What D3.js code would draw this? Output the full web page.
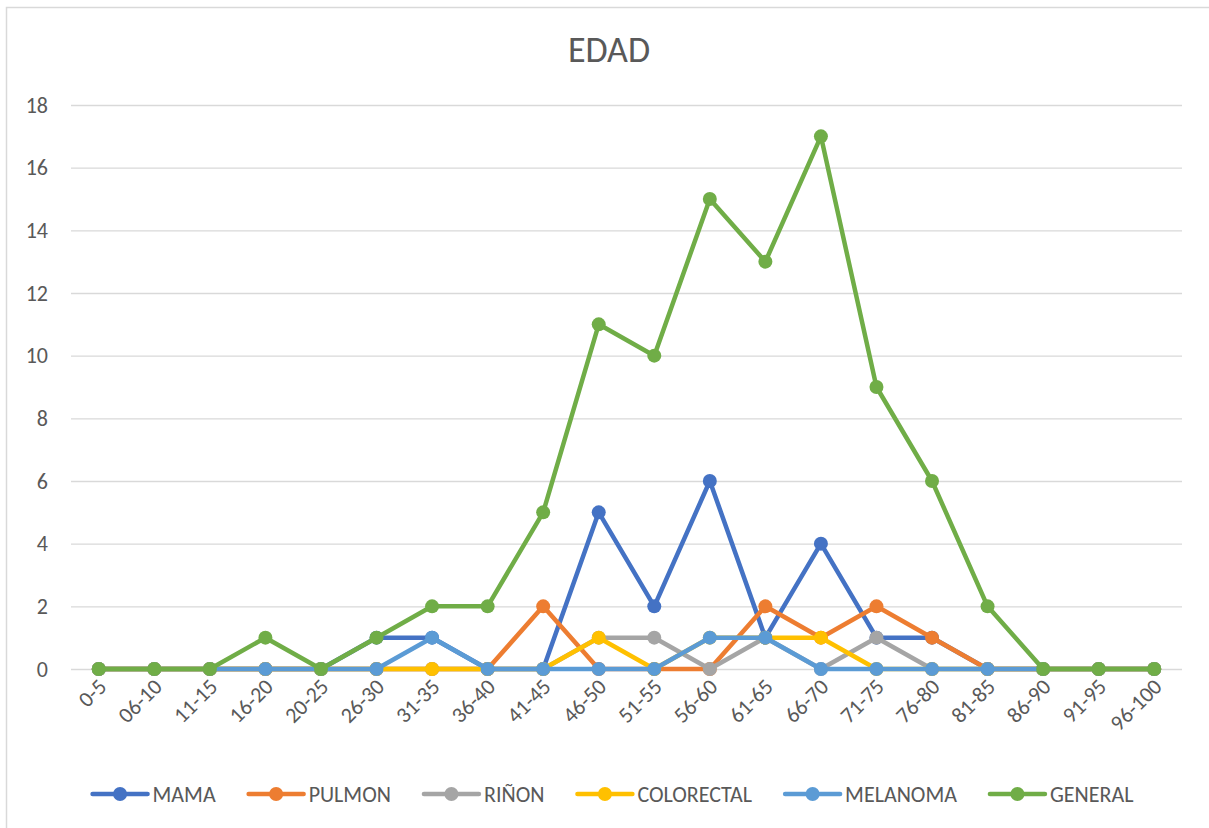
<!DOCTYPE html>
<html><head><meta charset="utf-8">
<script src="https://cdn.jsdelivr.net/npm/d3@7"></script>
<style>body{margin:0;background:#fff}svg{display:block}text{font-family:Carlito,Calibri,"Liberation Sans Narrow","Open Sans",sans-serif;fill:#595959}</style>
</head><body><svg id="c" width="1209" height="828"></svg>
<script>
const categories = ["0-5","06-10","11-15","16-20","20-25","26-30","31-35","36-40","41-45","46-50","51-55","56-60","61-65","66-70","71-75","76-80","81-85","86-90","91-95","96-100"];
const seriesNames = ["MAMA","PULMON","RIÑON","COLORECTAL","MELANOMA","GENERAL"];
const mama       = [0,0,0,0,0,1,1,0,0,5,2,6,1,4,1,1,0,0,0,0];
const pulmon     = [0,0,0,0,0,0,0,0,2,0,0,0,2,1,2,1,0,0,0,0];
const rinon      = [0,0,0,0,0,0,0,0,0,1,1,0,1,0,1,0,0,0,0,0];
const colorectal = [0,0,0,0,0,0,0,0,0,1,0,1,1,1,0,0,0,0,0,0];
const melanoma   = [0,0,0,0,0,0,1,0,0,0,0,1,1,0,0,0,0,0,0,0];
const general    = [0,0,0,1,0,1,2,2,5,11,10,15,13,17,9,6,2,0,0,0];
const yTicks = [0,2,4,6,8,10,12,14,16,18];
const colors = ["#4472C4","#ED7D31","#A5A5A5","#FFC000","#5B9BD5","#70AD47"];
const title = "EDAD";

const values = [mama,pulmon,rinon,colorectal,melanoma,general];
const svg = d3.select("#c");
svg.append("rect").attr("x",6.5).attr("y",7.5).attr("width",1300).attr("height",1000)
  .attr("fill","#fff").attr("stroke","#d9d9d9").attr("stroke-width",1.5);

const L=71,R=1182,T=105,B=669;
const x = d3.scaleBand().domain(categories).range([L,R]);
const y = d3.scaleLinear().domain([0,18]).range([B,T]);

svg.append("text").attr("x",609).attr("y",62).attr("text-anchor","middle")
  .style("font-size","36px").text(title);

const gy = svg.append("g").attr("transform",`translate(${L},0)`)
  .call(d3.axisLeft(y).tickValues(yTicks).tickSize(-(R-L)).tickPadding(23));
gy.select(".domain").remove();
gy.selectAll(".tick line").attr("stroke","#d9d9d9").attr("stroke-width",1.3);
gy.selectAll(".tick text").style("font-size","22px").attr("fill","#595959");

const gx = svg.append("g").attr("transform",`translate(0,${B})`)
  .call(d3.axisBottom(x).tickSize(0));
gx.select(".domain").remove();
gx.selectAll(".tick text").style("font-size","22px").attr("fill","#595959")
  .attr("text-anchor","end").attr("dy",0).attr("dx",0).attr("y",0)
  .attr("transform","translate(9,19) rotate(-45)");

const line = d3.line().x((d,i)=>x(categories[i])+x.bandwidth()/2).y(d=>y(d));
values.forEach((vals,k)=>{
  const g = svg.append("g");
  g.append("path").datum(vals).attr("d",line).attr("fill","none")
    .attr("stroke",colors[k]).attr("stroke-width",4.5).attr("stroke-linejoin","round").attr("stroke-linecap","round");
  g.selectAll("circle").data(vals).join("circle")
    .attr("cx",(d,i)=>x(categories[i])+x.bandwidth()/2).attr("cy",d=>y(d)).attr("r",7)
    .attr("fill",colors[k]);
});

// legend
const lg = svg.append("g");
const items = seriesNames.map((n,k)=>{
  const g = lg.append("g");
  g.append("line").attr("x1",0).attr("x2",55).attr("y1",0).attr("y2",0).attr("stroke",colors[k]).attr("stroke-width",4.5).attr("stroke-linecap","round");
  g.append("circle").attr("cx",27.5).attr("cy",0).attr("r",7).attr("fill",colors[k]);
  const t = g.append("text").attr("x",60).attr("y",0).attr("dy","0.35em").style("font-size","22px").text(n);
  return {g,w:60+t.node().getComputedTextLength()};
});
const gap=33;
const total = d3.sum(items,d=>d.w)+gap*(items.length-1);
let cx = 613 - total/2;
items.forEach(it=>{it.g.attr("transform",`translate(${cx},794)`); cx+=it.w+gap;});
</script></body></html>
